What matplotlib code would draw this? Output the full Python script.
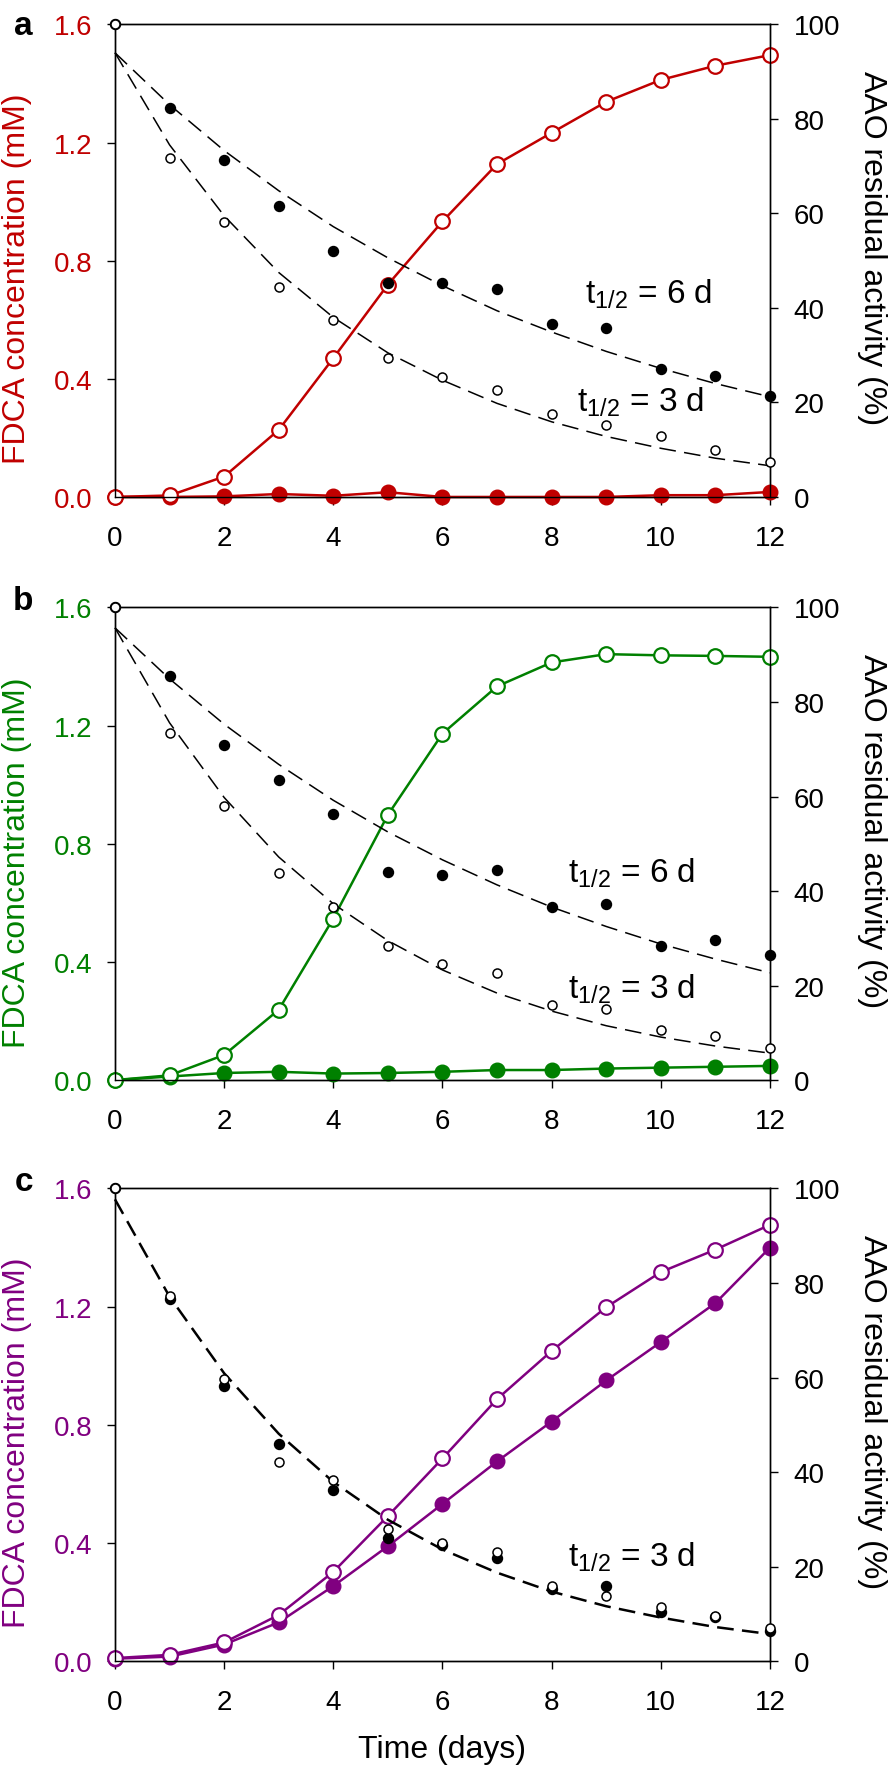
import matplotlib.pyplot as plt
from matplotlib.ticker import FormatStrFormatter

plt.rcParams['font.family'] = ['Liberation Sans', 'DejaVu Sans']
plt.rcParams['mathtext.fontset'] = 'custom'
plt.rcParams['mathtext.rm'] = 'Liberation Sans'
plt.rcParams['mathtext.it'] = 'Liberation Sans'

days = list(range(13))

# panel a - FDCA (mM) and AAO residual activity (%)
fdca_a_open = [0.0, 0.005, 0.069, 0.227, 0.470, 0.719, 0.933, 1.127, 1.233, 1.338, 1.412, 1.460, 1.496]
fdca_a_filled = [0.0, 0.0, 0.002, 0.010, 0.004, 0.016, 0.0, 0.0, 0.0, 0.0, 0.006, 0.006, 0.017]
aao_a_filled = [100, 82.2, 71.4, 61.5, 52.0, 45.3, 45.2, 43.9, 36.5, 35.8, 27.0, 25.7, 21.4]
aao_a_open = [100, 71.7, 58.1, 44.5, 37.4, 29.5, 25.4, 22.7, 17.6, 15.2, 12.9, 10.0, 7.3]
fit_a_6d = [94, 83.0, 73.3, 64.8, 57.2, 50.6, 44.7, 39.4, 34.9, 30.8, 27.2, 24.0, 21.2]
fit_a_3d = [94, 74.5, 59.5, 47.5, 38.0, 30.5, 24.7, 19.8, 15.9, 12.8, 10.3, 8.2, 6.6]

# panel b
fdca_b_open = [0.0, 0.016, 0.085, 0.238, 0.547, 0.898, 1.173, 1.333, 1.414, 1.442, 1.438, 1.436, 1.433]
fdca_b_filled = [0.0, 0.012, 0.024, 0.028, 0.022, 0.024, 0.028, 0.034, 0.034, 0.039, 0.042, 0.045, 0.048]
aao_b_filled = [100, 85.5, 70.9, 63.5, 56.4, 44.1, 43.4, 44.5, 36.6, 37.3, 28.3, 29.7, 26.5]
aao_b_open = [100, 73.5, 58.0, 43.9, 36.7, 28.4, 24.6, 22.6, 15.8, 15.0, 10.5, 9.3, 6.8]
fit_b_6d = [95.7, 84.9, 75.3, 66.8, 59.2, 52.5, 46.6, 41.3, 36.6, 32.5, 28.8, 25.6, 22.7]
fit_b_3d = [95.7, 75.6, 59.8, 47.2, 37.3, 29.5, 23.3, 18.4, 14.6, 11.5, 9.1, 7.2, 5.7]

# panel c
fdca_c_open = [0.010, 0.021, 0.063, 0.156, 0.302, 0.491, 0.686, 0.887, 1.050, 1.198, 1.317, 1.393, 1.477]
fdca_c_filled = [0.008, 0.015, 0.056, 0.131, 0.254, 0.389, 0.532, 0.676, 0.811, 0.950, 1.080, 1.212, 1.400]
aao_c_filled = [100, 76.6, 58.1, 45.9, 36.3, 26.1, 24.6, 21.8, 15.2, 15.8, 10.4, 9.4, 6.4]
aao_c_open = [100, 77.3, 59.7, 42.2, 38.3, 27.9, 25.0, 23.1, 15.8, 13.8, 11.5, 9.5, 7.0]
fit_c_3d = [97.7, 77.1, 60.9, 48.1, 37.9, 29.9, 23.6, 18.7, 14.7, 11.6, 9.2, 7.2, 5.7]

x_ticks = [0, 2, 4, 6, 8, 10, 12]
left_ticks = [0.0, 0.4, 0.8, 1.2, 1.6]
right_ticks = [0, 20, 40, 60, 80, 100]

panels = [
    ('a', '#c00000', fdca_a_open, fdca_a_filled, aao_a_filled, aao_a_open,
     [(fit_a_6d, 1.1), (fit_a_3d, 1.1)],
     [(8.61, 41.1, '6'), (8.46, 18.2, '3')], 0.979),
    ('b', '#008000', fdca_b_open, fdca_b_filled, aao_b_filled, aao_b_open,
     [(fit_b_6d, 1.1), (fit_b_3d, 1.1)],
     [(8.30, 42.0, '6'), (8.30, 17.4, '3')], 0.996),
    ('c', '#800080', fdca_c_open, fdca_c_filled, aao_c_filled, aao_c_open,
     [(fit_c_3d, 1.8)],
     [(8.30, 20.2, '3')], 0.996),
]

fig = plt.figure(figsize=(8.94, 17.74), dpi=100)
bottoms = [0.7193, 0.3906, 0.0631]

for i, (letter, color, f_open, f_filled, a_filled, a_open, fits, notes, ly) in enumerate(panels):
    ax = fig.add_axes([0.1286, bottoms[i], 0.7327, 0.2664])
    ax2 = ax.twinx()

    # FDCA on left axis
    ax.plot(days, f_filled, '-o', color=color, lw=1.8, ms=10.5, mfc=color, mec=color,
            clip_on=False, zorder=3)
    ax.plot(days, f_open, '-o', color=color, lw=1.8, ms=10.5, mfc='white', mec=color,
            mew=1.6, clip_on=False, zorder=4)

    # enzyme activity on right axis, dashed decay fits
    for fit, lw in fits:
        ax2.plot(days, fit, color='black', lw=lw, dashes=(12 / lw, 6 / lw),
                 clip_on=False, zorder=2)
    ax2.plot(days, a_filled, 'o', color='black', ms=7.2, clip_on=False, zorder=3)
    ax2.plot(days, a_open, 'o', ms=6.5, mfc='white', mec='black', mew=1.1,
             clip_on=False, zorder=4)

    for x, y, d in notes:
        ax2.text(x, y, r'$\mathregular{t_{1/2}}$ = ' + d + ' d', fontsize=24,
                 ha='left', va='baseline')

    ax.set_xlim(0, 12)
    ax.set_ylim(0, 1.6)
    ax2.set_ylim(0, 100)
    ax.set_xticks(x_ticks)
    ax.set_yticks(left_ticks)
    ax2.set_yticks(right_ticks)
    ax.yaxis.set_major_formatter(FormatStrFormatter('%.1f'))

    ax.tick_params(axis='y', direction='out', length=6, width=1, pad=10,
                   labelsize=20, labelcolor=color)
    ax.tick_params(axis='x', direction='out', length=6, width=1, pad=14, labelsize=20)
    ax2.tick_params(axis='y', direction='out', length=6, width=1, pad=11, labelsize=20)
    for a in (ax, ax2):
        for s in a.spines.values():
            s.set_linewidth(1.0)

    ax.set_ylabel('FDCA concentration (mM)', fontsize=23, color=color)
    ax.yaxis.label.set_va('center')
    ax.yaxis.set_label_coords(-0.150, 0.463)
    ax2.set_ylabel('AAO residual activity (%)', fontsize=23, rotation=270)
    ax2.yaxis.label.set_va('center')
    ax2.yaxis.set_label_coords(1.156, 0.529)

    ax.text(-0.125, ly, letter, transform=ax.transAxes, fontsize=24,
            fontweight='bold', ha='right', va='baseline')

    if i == 2:
        ax.set_xlabel('Time (days)', fontsize=23)
        ax.xaxis.label.set_va('center')
        ax.xaxis.set_label_coords(0.5, -0.187)

fig.savefig('out.png', dpi=100)
